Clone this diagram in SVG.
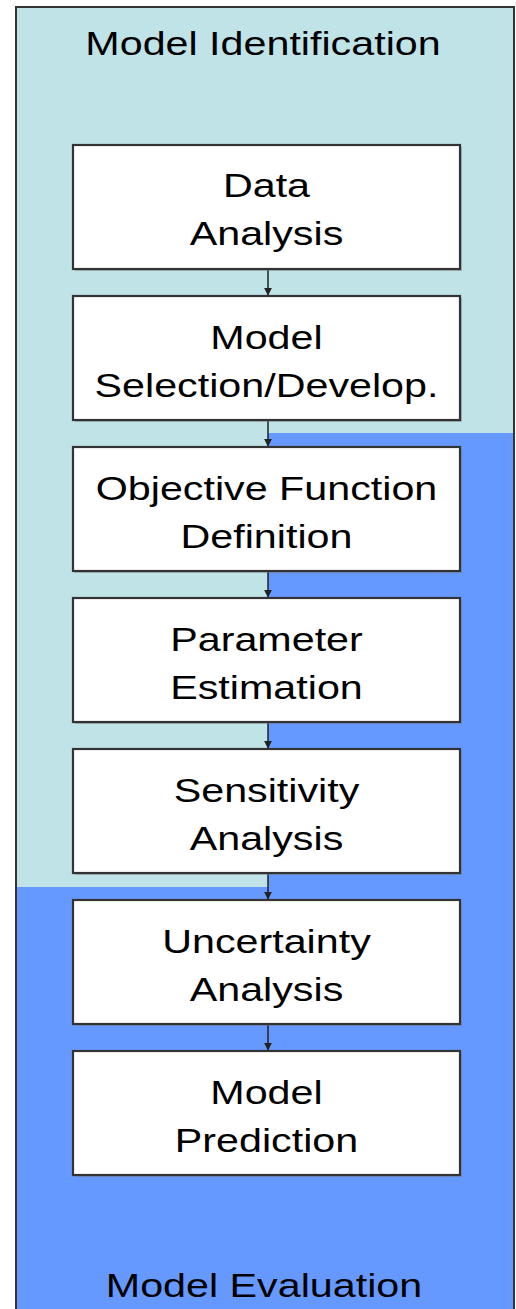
<svg xmlns="http://www.w3.org/2000/svg" width="516" height="1309" viewBox="0 0 516 1309">
  <defs>
    <style>
      .bg { fill: #ffffff; }
      .light { fill: #C0E3E8; }
      .dark { fill: #6699FF; }
      .frame { fill: none; stroke: #333333; stroke-width: 2; }
      .box { fill: #ffffff; stroke: #333333; stroke-width: 2.2; }
      .shadow { fill: #7a7a7a; opacity: 0.45; }
      .t { font-family: "Liberation Sans", Arial, sans-serif; font-size: 33px; fill: #000000; text-anchor: middle; }
      .conn { stroke: #222222; stroke-width: 1.5; fill: none; }
    </style>
    <marker id="arr" viewBox="0 0 10 10" refX="9" refY="5" markerWidth="8" markerHeight="8" markerUnits="userSpaceOnUse" orient="auto">
      <path d="M0,0 L10,5 L0,10 Z" fill="#222222"/>
    </marker>
  </defs>

  <rect class="bg" x="0" y="0" width="516" height="1309"/>

  <g id="phases">
    <rect class="dark" x="16" y="7" width="498" height="1303"/>
    <polygon class="light" points="16,7 514,7 514,433 268,433 268,887 16,887"/>
    <rect class="frame" x="16" y="7" width="498" height="1310"/>
  </g>

  <g id="title-identification">
    <text class="t" transform="translate(263,55) scale(1.25,1)">Model Identification</text>
  </g>
  <g id="title-evaluation">
    <text class="t" transform="translate(264,1297) scale(1.25,1)">Model Evaluation</text>
  </g>

  <g id="connectors">
    <line class="conn" x1="268" y1="269" x2="268" y2="295" marker-end="url(#arr)"/>
    <line class="conn" x1="268" y1="420" x2="268" y2="446" marker-end="url(#arr)"/>
    <line class="conn" x1="268" y1="571" x2="268" y2="597" marker-end="url(#arr)"/>
    <line class="conn" x1="268" y1="722" x2="268" y2="748" marker-end="url(#arr)"/>
    <line class="conn" x1="268" y1="873" x2="268" y2="899" marker-end="url(#arr)"/>
    <line class="conn" x1="268" y1="1024" x2="268" y2="1050" marker-end="url(#arr)"/>
  </g>

  <g id="data-analysis">
    <rect class="shadow" x="75" y="147" width="387" height="124"/>
    <rect class="box" x="73" y="145" width="387" height="124"/>
    <text class="t" transform="translate(266.5,197) scale(1.25,1)">Data</text>
    <text class="t" transform="translate(266.5,245) scale(1.25,1)">Analysis</text>
  </g>

  <g id="model-selection">
    <rect class="shadow" x="75" y="298" width="387" height="124"/>
    <rect class="box" x="73" y="296" width="387" height="124"/>
    <text class="t" transform="translate(266.5,349) scale(1.25,1)">Model</text>
    <text class="t" transform="translate(266.5,397) scale(1.25,1)">Selection/Develop.</text>
  </g>

  <g id="objective-function">
    <rect class="shadow" x="75" y="449" width="387" height="124"/>
    <rect class="box" x="73" y="447" width="387" height="124"/>
    <text class="t" transform="translate(266.5,500) scale(1.25,1)">Objective Function</text>
    <text class="t" transform="translate(266.5,548) scale(1.25,1)">Definition</text>
  </g>

  <g id="parameter-estimation">
    <rect class="shadow" x="75" y="600" width="387" height="124"/>
    <rect class="box" x="73" y="598" width="387" height="124"/>
    <text class="t" transform="translate(266.5,651) scale(1.25,1)">Parameter</text>
    <text class="t" transform="translate(266.5,699) scale(1.25,1)">Estimation</text>
  </g>

  <g id="sensitivity-analysis">
    <rect class="shadow" x="75" y="751" width="387" height="124"/>
    <rect class="box" x="73" y="749" width="387" height="124"/>
    <text class="t" transform="translate(266.5,802) scale(1.25,1)">Sensitivity</text>
    <text class="t" transform="translate(266.5,850) scale(1.25,1)">Analysis</text>
  </g>

  <g id="uncertainty-analysis">
    <rect class="shadow" x="75" y="902" width="387" height="124"/>
    <rect class="box" x="73" y="900" width="387" height="124"/>
    <text class="t" transform="translate(266.5,953) scale(1.25,1)">Uncertainty</text>
    <text class="t" transform="translate(266.5,1001) scale(1.25,1)">Analysis</text>
  </g>

  <g id="model-prediction">
    <rect class="shadow" x="75" y="1053" width="387" height="124"/>
    <rect class="box" x="73" y="1051" width="387" height="124"/>
    <text class="t" transform="translate(266.5,1104) scale(1.25,1)">Model</text>
    <text class="t" transform="translate(266.5,1152) scale(1.25,1)">Prediction</text>
  </g>
</svg>
